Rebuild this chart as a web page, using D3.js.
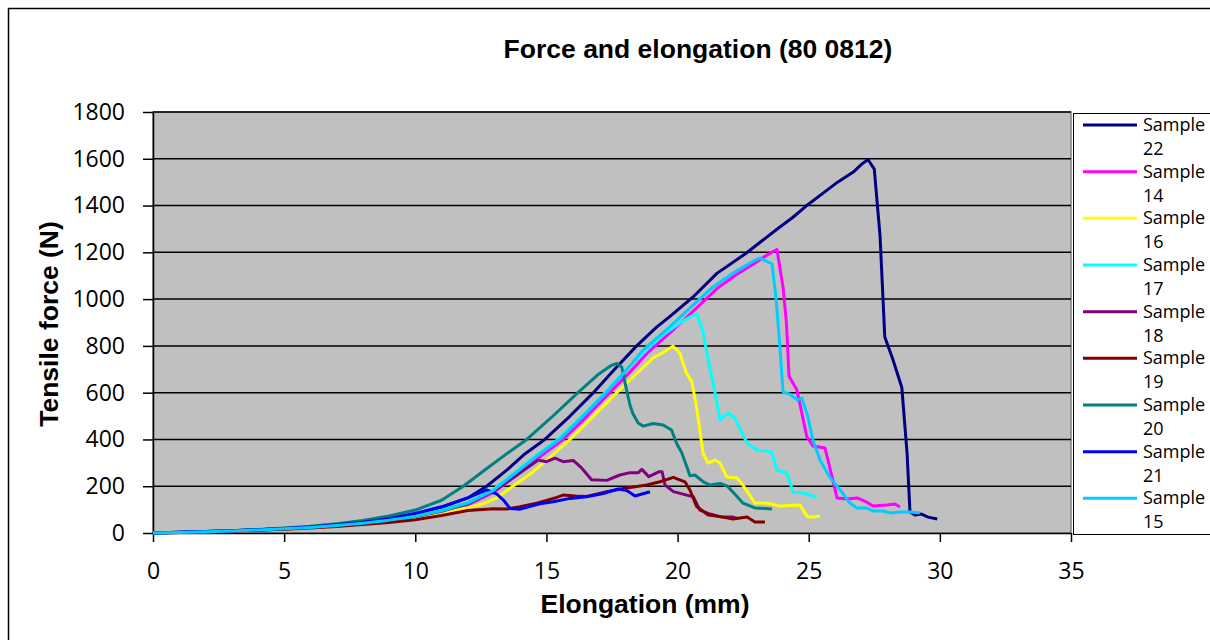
<!DOCTYPE html>
<html>
<head>
<meta charset="utf-8">
<script src="https://cdn.jsdelivr.net/npm/d3@7"></script>
<style>
  body { margin: 0; background: #fff; }
  svg { display: block; }
</style>
</head>
<body>
<script>
// elongation (mm), tensile force (N)
var sample22 = [[0,0],[1,3],[2,6],[3,10],[4,14],[5,19],[6,26],[7,35],[8,47],[9,62],[10,82],[11,110],[12,150],[12.72,200],[13.5,270],[14.2,340],[14.94,400],[15.9,500],[16.79,600],[17.6,700],[18.44,800],[19.2,880],[19.7,925],[20.6,1010],[21.5,1110],[22.6,1195],[23.8,1300],[24.4,1350],[24.9,1398],[25.7,1466],[26.1,1500],[26.7,1543],[27.0,1575],[27.26,1597],[27.5,1556],[27.72,1270],[27.9,838],[28.2,745],[28.55,622],[28.75,342],[28.86,90],[29.05,77],[29.3,81],[29.55,68],[29.9,60]];
var sample14 = [[0,0],[1,2],[2,5],[3,8],[4,12],[5,17],[6,23],[7,30],[8,40],[9,52],[10,67],[11,89],[12,120],[13,175],[13.9,250],[14.8,330],[15.64,400],[16.55,500],[17.42,600],[18.2,690],[18.85,770],[19.85,870],[20.75,965],[21.5,1045],[22.25,1105],[22.9,1150],[23.4,1188],[23.79,1212],[24.02,1052],[24.15,900],[24.25,670],[24.55,611],[24.93,411],[25.16,372],[25.62,363],[25.8,282],[26.08,150],[26.46,145],[26.84,150],[27.2,133],[27.45,115],[27.98,120],[28.29,124],[28.48,111]];
var sample16 = [[0,0],[1,2],[2,5],[3,8],[4,12],[5,16],[6,22],[7,29],[8,38],[9,50],[10,64],[11,85],[12,108],[12.6,125],[13.1,150],[13.6,190],[14.5,262],[15.2,330],[15.9,400],[16.8,500],[17.68,600],[18.3,667],[19.06,748],[19.5,775],[19.82,799],[20.09,769],[20.32,688],[20.55,645],[20.74,526],[20.97,342],[21.16,299],[21.43,312],[21.62,299],[21.88,239],[22.27,235],[22.49,205],[22.95,128],[23.41,128],[23.9,115],[24.67,120],[24.78,98],[24.97,68],[25.16,68],[25.43,73]];
var sample17 = [[0,0],[1,2],[2,5],[3,9],[4,13],[5,18],[6,24],[7,32],[8,43],[9,56],[10,72],[11,97],[12,130],[12.9,180],[13.7,250],[14.6,330],[15.44,400],[16.35,500],[17.23,600],[18.0,695],[18.57,755],[19.33,838],[20.2,906],[20.5,925],[20.74,936],[20.97,860],[21.2,720],[21.43,600],[21.62,483],[21.92,513],[22.19,492],[22.4,440],[22.65,385],[23.03,355],[23.4,351],[23.6,342],[23.79,269],[24.17,257],[24.4,175],[24.78,171],[25.05,162],[25.31,154]];
var sample18 = [[0,0],[1,2],[2,5],[3,8],[4,13],[5,17],[6,23],[7,31],[8,41],[9,54],[10,70],[11,93],[12,125],[13,180],[13.9,250],[14.69,312],[15.0,305],[15.33,320],[15.64,305],[16.02,310],[16.34,278],[16.72,228],[17.3,225],[17.8,248],[18.19,258],[18.5,258],[18.64,272],[18.9,241],[19.3,262],[19.41,262],[19.52,205],[19.84,177],[20.35,162],[20.6,155],[20.85,98],[21.24,81],[21.62,70],[22.11,68],[22.3,62]];
var sample19 = [[0,0],[1,2],[2,5],[3,8],[4,12],[5,16],[6,21],[7,28],[8,36],[9,45],[10,57],[11,75],[12,96],[12.97,104],[13.5,103],[13.99,112],[14.63,127],[15.39,152],[15.64,162],[16.09,158],[16.53,156],[17.3,177],[17.93,190],[18.82,205],[19.33,219],[19.84,238],[20.28,219],[20.47,184],[20.73,113],[21.17,77],[21.62,70],[22.11,60],[22.65,68],[22.95,47],[23.33,47]];
var sample20 = [[0,0],[1,3],[2,6],[3,10],[4,15],[5,21],[6,29],[7,40],[8,54],[9,73],[10,98],[11,140],[11.83,200],[12.6,265],[13.4,332],[14.25,400],[15.2,495],[16.2,600],[17.0,680],[17.45,715],[17.68,725],[17.87,710],[18.0,640],[18.19,545],[18.3,510],[18.5,470],[18.69,457],[19.07,468],[19.45,462],[19.77,440],[19.96,384],[20.15,345],[20.35,284],[20.47,245],[20.66,248],[20.98,219],[21.24,205],[21.62,212],[21.9,200],[22.11,175],[22.49,128],[22.95,107],[23.6,103]];
var sample21 = [[0,0],[1,3],[2,6],[3,10],[4,14],[5,19],[6,26],[7,35],[8,46],[9,61],[10,84],[11,112],[12,150],[12.72,184],[13.1,167],[13.36,141],[13.61,105],[14.0,102],[14.25,110],[14.75,125],[15.26,134],[15.9,148],[16.53,155],[17.17,169],[17.74,188],[18.06,182],[18.38,158],[18.88,174],[18.95,175]];
var sample15 = [[0,0],[1,2],[2,5],[3,9],[4,13],[5,18],[6,24],[7,32],[8,42],[9,55],[10,71],[11,95],[12,128],[12.95,180],[13.75,250],[14.65,330],[15.5,400],[16.4,500],[17.28,600],[18.0,690],[18.68,782],[19.7,881],[20.6,975],[21.35,1052],[22.11,1111],[22.76,1154],[23.14,1176],[23.6,1150],[23.75,1009],[23.9,800],[24.02,603],[24.28,594],[24.55,569],[24.74,577],[24.97,496],[25.16,398],[25.43,312],[25.8,239],[26.2,184],[26.57,128],[26.84,107],[27.2,107],[27.45,94],[27.83,94],[28.1,86],[28.48,90],[28.86,90],[29.24,86]];

var seriesNames = ["Sample 22", "Sample 14", "Sample 16", "Sample 17", "Sample 18", "Sample 19", "Sample 20", "Sample 21", "Sample 15"];
var seriesData = [sample22, sample14, sample16, sample17, sample18, sample19, sample20, sample21, sample15];
var seriesColors = ["#000080", "#ff00ff", "#ffff00", "#00ffff", "#800080", "#800000", "#008080", "#0000ff", "#00ccff"];

var xTicks = [0, 5, 10, 15, 20, 25, 30, 35];
var yTicks = [0, 200, 400, 600, 800, 1000, 1200, 1400, 1600, 1800];

var width = 1210,
    height = 640;

var svg = d3.select("body")
    .append("svg")
    .attr("width", width)
    .attr("height", height);

//outer chart frame (runs off the right and bottom edge)
svg.append("rect")
    .attr("x", 8.5).attr("y", 8.5)
    .attr("width", 1220).attr("height", 650)
    .attr("fill", "#fff")
    .attr("stroke", "#000")
    .attr("stroke-width", 1.5);

var x = d3.scaleLinear().domain([0, 35]).range([153, 1071]);
var y = d3.scaleLinear().domain([0, 1800]).range([533, 112]);

//grey plot area
svg.append("rect")
    .attr("x", x(0)).attr("y", y(1800))
    .attr("width", x(35) - x(0)).attr("height", y(0) - y(1800))
    .attr("fill", "#c0c0c0")
    .attr("stroke", "#808080")
    .attr("stroke-width", 1.5);

//gridlines
svg.append("g")
    .selectAll("line")
    .data(yTicks.slice(1))
    .enter()
    .append("line")
    .attr("x1", x(0)).attr("x2", x(35))
    .attr("y1", function(d){ return y(d); })
    .attr("y2", function(d){ return y(d); })
    .attr("stroke", "#000")
    .attr("stroke-width", 1.5);

var tickFont = "'Open Sans', sans-serif";

var yAxis = svg.append("g")
    .attr("transform", "translate(" + x(0) + ",0)")
    .call(d3.axisLeft(y).tickValues(yTicks).tickFormat(d3.format("d"))
        .tickSize(10).tickPadding(18).tickSizeOuter(0));

var xAxis = svg.append("g")
    .attr("transform", "translate(0," + y(0) + ")")
    .call(d3.axisBottom(x).tickValues(xTicks).tickFormat(d3.format("d"))
        .tickSize(9).tickPadding(21).tickSizeOuter(0));

[xAxis, yAxis].forEach(function(ax){
    ax.select(".domain").attr("stroke", "#000").attr("stroke-width", 1.5);
    ax.selectAll(".tick line").attr("stroke", "#000").attr("stroke-width", 1.5);
    ax.selectAll(".tick text")
        .attr("fill", "#000")
        .style("font-family", tickFont)
        .style("font-size", "23px");
});

//sample curves
var line = d3.line()
    .x(function(d){ return x(d[0]); })
    .y(function(d){ return y(d[1]); });

svg.append("g")
    .selectAll("path")
    .data(seriesData)
    .enter()
    .append("path")
    .attr("d", line)
    .attr("fill", "none")
    .attr("stroke", function(d, i){ return seriesColors[i]; })
    .attr("stroke-width", 3)
    .attr("stroke-linejoin", "round");

//titles
var boldFont = "'Liberation Sans', Arial, sans-serif";

svg.append("text")
    .attr("x", 698).attr("y", 58)
    .attr("text-anchor", "middle")
    .style("font-family", boldFont)
    .style("font-weight", "bold")
    .style("font-size", "26.5px")
    .text("Force and elongation (80 0812)");

svg.append("text")
    .attr("x", 645).attr("y", 613)
    .attr("text-anchor", "middle")
    .style("font-family", boldFont)
    .style("font-weight", "bold")
    .style("font-size", "26.5px")
    .text("Elongation (mm)");

svg.append("text")
    .attr("transform", "translate(58,324) rotate(-90)")
    .attr("text-anchor", "middle")
    .style("font-family", boldFont)
    .style("font-weight", "bold")
    .style("font-size", "26.5px")
    .text("Tensile force (N)");

//legend
var legend = svg.append("g");

legend.append("rect")
    .attr("x", 1073.5).attr("y", 113.5)
    .attr("width", 200).attr("height", 421)
    .attr("fill", "#fff")
    .attr("stroke", "#000")
    .attr("stroke-width", 1);

var entry = legend.selectAll(".entry")
    .data(seriesNames)
    .enter()
    .append("g")
    .attr("class", "entry")
    .attr("transform", function(d, i){ return "translate(0," + (125 + i * 46.67) + ")"; });

entry.append("line")
    .attr("x1", 1083).attr("x2", 1137)
    .attr("stroke", function(d, i){ return seriesColors[i]; })
    .attr("stroke-width", 3);

entry.append("text")
    .attr("x", 1143).attr("y", 6)
    .style("font-family", tickFont)
    .style("font-size", "18px")
    .text(function(d){ return d.split(" ")[0]; });

entry.append("text")
    .attr("x", 1143).attr("y", 30)
    .style("font-family", tickFont)
    .style("font-size", "18px")
    .text(function(d){ return d.split(" ")[1]; });
</script>
</body>
</html>
